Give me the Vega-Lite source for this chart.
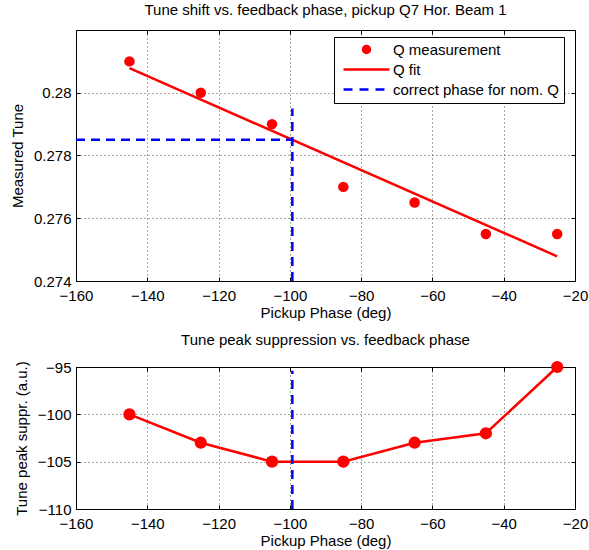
{
  "$schema": "https://vega.github.io/schema/vega-lite/v6.json",
  "background": "white",
  "padding": {"left": 9, "top": 2, "right": 5, "bottom": 0},
  "datasets": {
    "meas": [
      {"phase": -145, "tune": 0.281, "series": "Q measurement"},
      {"phase": -125, "tune": 0.280, "series": "Q measurement"},
      {"phase": -105, "tune": 0.279, "series": "Q measurement"},
      {"phase": -85, "tune": 0.277, "series": "Q measurement"},
      {"phase": -65, "tune": 0.2765, "series": "Q measurement"},
      {"phase": -45, "tune": 0.2755, "series": "Q measurement"},
      {"phase": -25, "tune": 0.2755, "series": "Q measurement"}
    ],
    "fit": [
      {"phase": -145, "tune": 0.280786, "series": "Q fit"},
      {"phase": -25, "tune": 0.274786, "series": "Q fit"}
    ],
    "corr": [
      {"x": -160, "x2": -99.3, "y": 0.2785, "y2": 0.2785, "series": "correct phase for nom. Q"},
      {"x": -99.3, "x2": -99.3, "y": 0.274, "y2": 0.2795, "series": "correct phase for nom. Q"}
    ],
    "supp": [
      {"phase": -145, "supp": -100},
      {"phase": -125, "supp": -103},
      {"phase": -105, "supp": -105},
      {"phase": -85, "supp": -105},
      {"phase": -65, "supp": -103},
      {"phase": -45, "supp": -102},
      {"phase": -25, "supp": -95}
    ],
    "corr2": [
      {"x": -99.3, "y": -110, "y2": -95.4}
    ]
  },
  "config": {
    "font": "Liberation Sans",
    "view": {"stroke": "black", "strokeWidth": 1},
    "axis": {
      "labelFont": "Liberation Sans",
      "labelFontSize": 15,
      "labelColor": "black",
      "titleFont": "Liberation Sans",
      "titleFontSize": 15,
      "titleFontWeight": "normal",
      "titleColor": "black",
      "domain": false,
      "ticks": true,
      "tickColor": "black",
      "tickSize": -4,
      "gridColor": "black",
      "gridDash": [1, 3],
      "gridOpacity": 0.7,
      "gridWidth": 1,
      "labelOverlap": false
    },
    "axisX": {"labelPadding": 11, "titlePadding": 2, "labelFlush": false},
    "axisY": {"labelPadding": 9, "titlePadding": 8},
    "title": {"font": "Liberation Sans", "fontSize": 15, "fontWeight": "normal", "color": "black", "offset": 12}
  },
  "spacing": 11,
  "vconcat": [
    {
      "width": 499,
      "height": 251,
      "title": "Tune shift vs. feedback phase, pickup Q7 Hor. Beam 1",
      "resolve": {"axis": {"x": "independent", "y": "independent"}},
      "layer": [
        {
          "data": {"name": "fit"},
          "mark": {"type": "line", "strokeWidth": 2.5},
          "encoding": {
            "x": {"field": "phase", "type": "quantitative", "scale": {"domain": [-160, -20], "nice": false, "zero": false}, "axis": {"values": [-160, -140, -120, -100, -80, -60, -40, -20], "title": "Pickup Phase (deg)"}},
            "y": {"field": "tune", "type": "quantitative", "scale": {"domain": [0.274, 0.282], "nice": false, "zero": false}, "axis": {"values": [0.274, 0.276, 0.278, 0.28], "format": ".3~f", "title": "Measured Tune"}},
            "color": {
              "field": "series", "type": "nominal",
              "scale": {"domain": ["Q measurement", "Q fit", "correct phase for nom. Q"], "range": ["#ff0000", "#ff0000", "#0000ff"]},
              "legend": {
                "title": null,
                "orient": "none",
                "legendX": 258,
                "legendY": 7,
                "strokeColor": "black",
                "fillColor": "white",
                "padding": 5,
                "labelFont": "Liberation Sans",
                "labelFontSize": 15,
                "labelColor": "black",
                "labelLimit": 400,
                "labelOffset": 19,
                "symbolOffset": 20,
                "rowPadding": 4,
                "symbolSize": 2116,
                "symbolType": "stroke",
                "encode": {
                  "symbols": {
                    "update": {
                      "shape": {"signal": "datum.value === 'Q measurement' ? 'circle' : 'stroke'"},
                      "size": {"signal": "datum.value === 'Q measurement' ? 90 : 2116"},
                      "fill": {"signal": "datum.value === 'Q measurement' ? '#ff0000' : 'transparent'"},
                      "stroke": {"signal": "datum.value === 'correct phase for nom. Q' ? '#0000ff' : '#ff0000'"},
                      "strokeWidth": {"signal": "datum.value === 'Q measurement' ? 0 : 2.5"},
                      "strokeDash": {"signal": "datum.value === 'correct phase for nom. Q' ? [9, 7] : [1, 0]"},
                      "opacity": {"value": 1}
                    }
                  }
                }
              }
            }
          }
        },
        {
          "data": {"name": "meas"},
          "mark": {"type": "point", "filled": true, "size": 110, "opacity": 1},
          "encoding": {
            "x": {"field": "phase", "type": "quantitative", "axis": null},
            "y": {"field": "tune", "type": "quantitative", "axis": null},
            "color": {"field": "series", "type": "nominal"}
          }
        },
        {
          "data": {"name": "corr"},
          "mark": {"type": "rule", "strokeWidth": 2.5, "strokeDash": [9, 6]},
          "encoding": {
            "x": {"field": "x", "type": "quantitative", "axis": {"orient": "top", "values": [-160, -140, -120, -100, -80, -60, -40, -20], "labels": false, "grid": false, "title": null}},
            "x2": {"field": "x2"},
            "y": {"field": "y", "type": "quantitative", "axis": {"orient": "right", "values": [0.274, 0.276, 0.278, 0.28], "labels": false, "grid": false, "title": null}},
            "y2": {"field": "y2"},
            "color": {"field": "series", "type": "nominal"}
          }
        }
      ]
    },
    {
      "width": 499,
      "height": 142,
      "title": "Tune peak suppression vs. feedback phase",
      "resolve": {"axis": {"x": "independent", "y": "independent"}},
      "layer": [
        {
          "data": {"name": "supp"},
          "mark": {"type": "line", "color": "#ff0000", "strokeWidth": 2.5, "point": {"filled": true, "size": 150, "color": "#ff0000", "opacity": 1}},
          "encoding": {
            "x": {"field": "phase", "type": "quantitative", "scale": {"domain": [-160, -20], "nice": false, "zero": false}, "axis": {"values": [-160, -140, -120, -100, -80, -60, -40, -20], "title": "Pickup Phase (deg)"}},
            "y": {"field": "supp", "type": "quantitative", "scale": {"domain": [-110, -95], "nice": false, "zero": false}, "axis": {"values": [-110, -105, -100, -95], "title": "Tune peak suppr. (a.u.)"}}
          }
        },
        {
          "data": {"name": "corr2"},
          "mark": {"type": "rule", "color": "#0000ff", "strokeWidth": 2.5, "strokeDash": [9, 6]},
          "encoding": {
            "x": {"field": "x", "type": "quantitative", "axis": {"orient": "top", "values": [-160, -140, -120, -100, -80, -60, -40, -20], "labels": false, "grid": false, "title": null}},
            "y": {"field": "y", "type": "quantitative", "axis": {"orient": "right", "values": [-110, -105, -100, -95], "labels": false, "grid": false, "title": null}},
            "y2": {"field": "y2"}
          }
        }
      ]
    }
  ]
}
